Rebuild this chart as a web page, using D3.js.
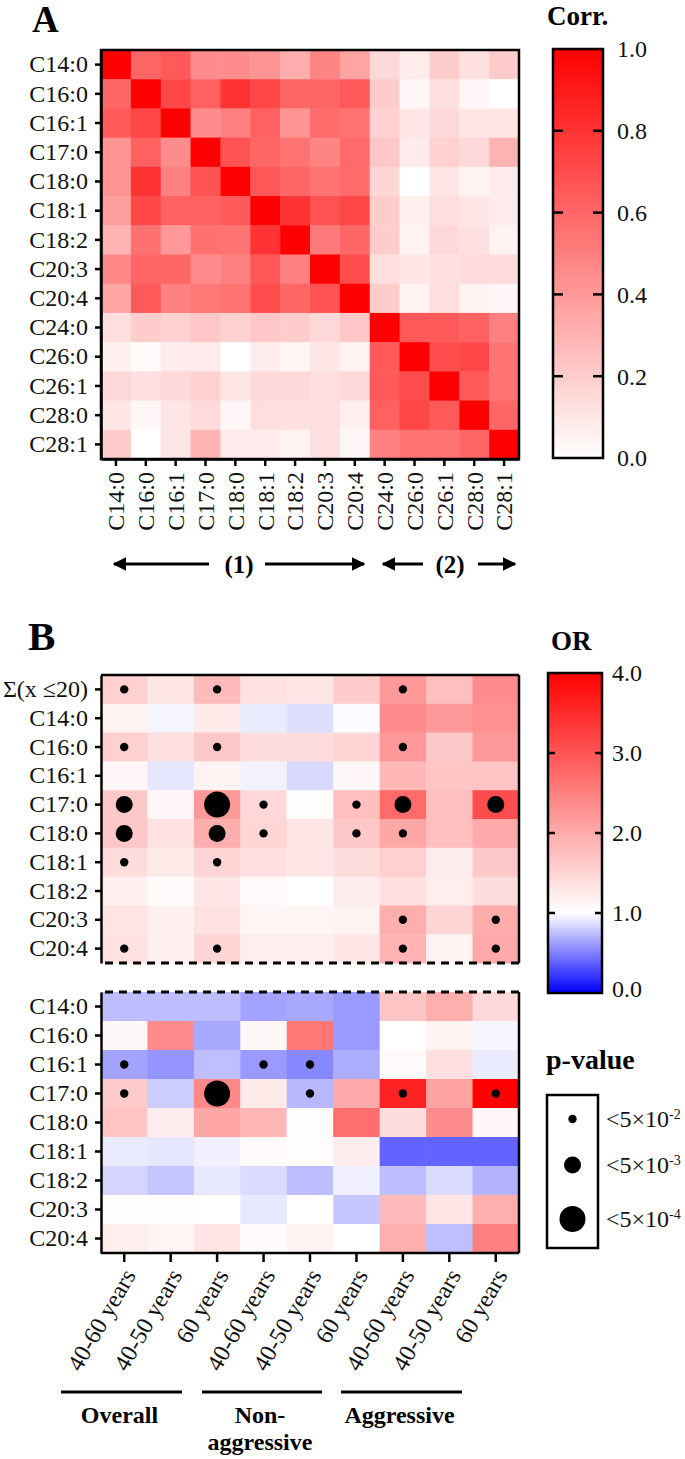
<!DOCTYPE html>
<html>
<head>
<meta charset="utf-8">
<script src="https://cdn.jsdelivr.net/npm/d3@7"></script>
<style>
  body { margin: 0; background: #fff; }
  text { font-family: "Liberation Serif", "Times New Roman", serif; }
</style>
</head>
<body>
<div id="chart"></div>
<script>
// Panel A: correlation between fatty acids
const corrLabels = ["C14:0", "C16:0", "C16:1", "C17:0", "C18:0", "C18:1", "C18:2",
                    "C20:3", "C20:4", "C24:0", "C26:0", "C26:1", "C28:0", "C28:1"];
const corrValues = [
  [1, 0.6, 0.65, 0.45, 0.45, 0.42, 0.32, 0.48, 0.36, 0.15, 0.08, 0.2, 0.12, 0.2],
  [0.6, 1, 0.72, 0.62, 0.8, 0.72, 0.6, 0.6, 0.65, 0.2, 0.03, 0.12, 0.03, 0.0],
  [0.65, 0.72, 1, 0.45, 0.5, 0.62, 0.42, 0.58, 0.55, 0.18, 0.1, 0.15, 0.1, 0.1],
  [0.42, 0.62, 0.45, 1, 0.68, 0.6, 0.55, 0.48, 0.58, 0.22, 0.08, 0.18, 0.15, 0.3],
  [0.42, 0.8, 0.5, 0.68, 1, 0.66, 0.6, 0.55, 0.58, 0.16, 0.0, 0.1, 0.05, 0.08],
  [0.38, 0.72, 0.62, 0.62, 0.65, 1, 0.8, 0.68, 0.72, 0.2, 0.06, 0.13, 0.1, 0.08],
  [0.3, 0.56, 0.4, 0.56, 0.55, 0.8, 1, 0.52, 0.6, 0.2, 0.05, 0.15, 0.12, 0.05],
  [0.47, 0.6, 0.6, 0.45, 0.5, 0.66, 0.5, 1, 0.7, 0.13, 0.1, 0.12, 0.14, 0.14],
  [0.35, 0.65, 0.5, 0.53, 0.55, 0.7, 0.6, 0.68, 1, 0.2, 0.05, 0.13, 0.05, 0.03],
  [0.13, 0.2, 0.18, 0.22, 0.18, 0.22, 0.2, 0.15, 0.22, 1, 0.65, 0.65, 0.62, 0.5],
  [0.06, 0.02, 0.08, 0.08, 0.0, 0.07, 0.04, 0.1, 0.05, 0.65, 1, 0.7, 0.72, 0.55],
  [0.15, 0.12, 0.15, 0.18, 0.1, 0.15, 0.15, 0.13, 0.15, 0.65, 0.7, 1, 0.65, 0.55],
  [0.1, 0.03, 0.1, 0.14, 0.03, 0.13, 0.12, 0.13, 0.06, 0.62, 0.72, 0.65, 1, 0.6],
  [0.2, 0.0, 0.1, 0.3, 0.08, 0.08, 0.05, 0.12, 0.03, 0.5, 0.55, 0.55, 0.6, 1]
];
const corrTicks = [0, 0.2, 0.4, 0.6, 0.8, 1.0];

// Panel B: odds ratios, with p-value level (0 = ns, 1 = <5e-2, 2 = <5e-3, 3 = <5e-4)
const orCols = ["40-60 years", "40-50 years", "60 years",
                "40-60 years", "40-50 years", "60 years",
                "40-60 years", "40-50 years", "60 years"];
const orGroups = ["Overall", "Non-|aggressive", "Aggressive"];
const orRowsTop = ["Σ(x ≤20)", "C14:0", "C16:0", "C16:1", "C17:0", "C18:0",
                   "C18:1", "C18:2", "C20:3", "C20:4"];
const orRowsBottom = ["C14:0", "C16:0", "C16:1", "C17:0", "C18:0",
                      "C18:1", "C18:2", "C20:3", "C20:4"];
const orTop = [
  [1.55, 1.3, 1.8, 1.35, 1.3, 1.6, 2.2, 1.75, 2.35],
  [1.15, 0.96, 1.25, 0.92, 0.87, 0.98, 2.35, 2.2, 2.3],
  [1.55, 1.38, 1.65, 1.4, 1.4, 1.5, 2.2, 1.65, 2.2],
  [1.1, 0.9, 1.15, 0.95, 0.85, 1.1, 1.85, 1.7, 1.7],
  [1.65, 1.1, 2.2, 1.45, 1.03, 1.75, 2.75, 1.75, 3.1],
  [1.65, 1.35, 1.95, 1.5, 1.3, 1.65, 2.05, 1.75, 2.0],
  [1.4, 1.25, 1.5, 1.38, 1.28, 1.4, 1.55, 1.22, 1.65],
  [1.18, 1.05, 1.28, 1.06, 1.0, 1.22, 1.38, 1.2, 1.4],
  [1.32, 1.18, 1.35, 1.12, 1.12, 1.15, 1.95, 1.5, 1.98],
  [1.35, 1.18, 1.5, 1.2, 1.2, 1.28, 1.9, 1.15, 2.0]
];
const pTop = [
  [1, 0, 1, 0, 0, 0, 1, 0, 0],
  [0, 0, 0, 0, 0, 0, 0, 0, 0],
  [1, 0, 1, 0, 0, 0, 1, 0, 0],
  [0, 0, 0, 0, 0, 0, 0, 0, 0],
  [2, 0, 3, 1, 0, 1, 2, 0, 2],
  [2, 0, 2, 1, 0, 1, 1, 0, 0],
  [1, 0, 1, 0, 0, 0, 0, 0, 0],
  [0, 0, 0, 0, 0, 0, 0, 0, 0],
  [0, 0, 0, 0, 0, 0, 1, 0, 1],
  [1, 0, 1, 0, 0, 0, 1, 0, 1]
];
const orBottom = [
  [0.74, 0.74, 0.74, 0.64, 0.66, 0.6, 1.7, 1.95, 1.45],
  [1.08, 2.35, 0.66, 1.08, 2.6, 0.6, 1.0, 1.15, 0.96],
  [0.64, 0.58, 0.75, 0.6, 0.53, 0.68, 1.05, 1.38, 0.92],
  [1.62, 0.8, 2.4, 1.25, 0.72, 2.0, 3.6, 2.1, 4.0],
  [1.7, 1.22, 2.05, 1.85, 1.03, 2.7, 1.4, 2.35, 1.1],
  [0.92, 0.9, 0.94, 1.05, 1.04, 1.22, 0.39, 0.39, 0.39],
  [0.83, 0.77, 0.91, 0.86, 0.74, 0.94, 0.74, 0.86, 0.7],
  [1.02, 1.02, 1.0, 0.91, 1.0, 0.78, 1.8, 1.28, 1.95],
  [1.2, 1.12, 1.32, 1.05, 1.15, 1.0, 1.95, 0.75, 2.5]
];
const pBottom = [
  [0, 0, 0, 0, 0, 0, 0, 0, 0],
  [0, 0, 0, 0, 0, 0, 0, 0, 0],
  [1, 0, 0, 1, 1, 0, 0, 0, 0],
  [1, 0, 3, 0, 1, 0, 1, 0, 1],
  [0, 0, 0, 0, 0, 0, 0, 0, 0],
  [0, 0, 0, 0, 0, 0, 0, 0, 0],
  [0, 0, 0, 0, 0, 0, 0, 0, 0],
  [0, 0, 0, 0, 0, 0, 0, 0, 0],
  [0, 0, 0, 0, 0, 0, 0, 0, 0]
];
const orTicks = [0, 1, 2, 3, 4];
const pLegend = [{lvl: 1, exp: "-2"}, {lvl: 2, exp: "-3"}, {lvl: 3, exp: "-4"}];

const W = 685, H = 1459;
const FONT = 24;
const DOT_R = [0, 4.2, 8.5, 13];

const svg = d3.select("#chart").append("svg")
  .attr("width", W).attr("height", H);
svg.append("rect").attr("width", W).attr("height", H).attr("fill", "#fff");

const corrColor = d3.scaleLinear().domain([0, 1]).range(["#ffffff", "#ff0000"]);
const orColor = d3.scaleLinear().domain([0, 1, 4]).range(["#0000ff", "#ffffff", "#ff0000"]);

function styleAxis(g) {
  g.select(".domain").attr("stroke", "#000").attr("stroke-width", 2.5);
  g.selectAll(".tick line").attr("stroke", "#000").attr("stroke-width", 2.5);
  g.selectAll(".tick text").attr("font-size", FONT).attr("fill", "#111");
}

// ---------------- Panel A ----------------
svg.append("text").attr("x", 32).attr("y", 32)
  .attr("font-size", 37).attr("font-weight", "bold").text("A");

const ax = d3.scaleBand().domain(corrLabels).range([101, 519]);
const ay = d3.scaleBand().domain(corrLabels).range([50, 459]);

const aCells = [];
corrValues.forEach((row, i) => row.forEach((v, j) => aCells.push({r: corrLabels[i], c: corrLabels[j], v: v})));

svg.append("g").selectAll("rect").data(aCells).join("rect")
  .attr("x", d => ax(d.c)).attr("y", d => ay(d.r))
  .attr("width", ax.bandwidth() + 0.5).attr("height", ay.bandwidth() + 0.5)
  .attr("fill", d => corrColor(d.v));

svg.append("rect").attr("x", 101).attr("y", 50).attr("width", 418).attr("height", 409)
  .attr("fill", "none").attr("stroke", "#000").attr("stroke-width", 2.5);

svg.append("g").attr("transform", "translate(101,0)")
  .call(d3.axisLeft(ay).tickSize(6).tickPadding(7).tickSizeOuter(0))
  .call(styleAxis);

const axB = svg.append("g").attr("transform", "translate(0,459)")
  .call(d3.axisBottom(ax).tickSize(7).tickSizeOuter(0))
  .call(styleAxis);
axB.selectAll(".tick text")
  .attr("transform", "rotate(-90)")
  .attr("text-anchor", "end")
  .attr("x", -13).attr("y", 0).attr("dy", "0.35em");

// group arrows under panel A
const defs = svg.append("defs");
defs.append("marker").attr("id", "arrow")
  .attr("viewBox", "0 0 10 10").attr("refX", 9).attr("refY", 5)
  .attr("markerWidth", 4.5).attr("markerHeight", 4.5).attr("orient", "auto-start-reverse")
  .append("path").attr("d", "M0,0 L10,5 L0,10 Z").attr("fill", "#000");

const arrowY = 564;
const arrows = [[209, 114], [265, 364], [423, 383], [478, 515]];
svg.append("g").selectAll("line").data(arrows).join("line")
  .attr("x1", d => d[0]).attr("x2", d => d[1])
  .attr("y1", arrowY).attr("y2", arrowY)
  .attr("stroke", "#000").attr("stroke-width", 3)
  .attr("marker-end", "url(#arrow)");
svg.append("text").attr("x", 239).attr("y", arrowY).attr("dy", "0.35em")
  .attr("text-anchor", "middle").attr("font-size", 25).attr("font-weight", "bold").text("(1)");
svg.append("text").attr("x", 450).attr("y", arrowY).attr("dy", "0.35em")
  .attr("text-anchor", "middle").attr("font-size", 25).attr("font-weight", "bold").text("(2)");

// Corr colour bar
const gradA = defs.append("linearGradient").attr("id", "gradA")
  .attr("x1", 0).attr("y1", 1).attr("x2", 0).attr("y2", 0);
gradA.append("stop").attr("offset", "0%").attr("stop-color", corrColor(0));
gradA.append("stop").attr("offset", "100%").attr("stop-color", corrColor(1));

const cbA = d3.scaleLinear().domain([0, 1]).range([458, 49]);
svg.append("text").attr("x", 547).attr("y", 25)
  .attr("font-size", 27).attr("font-weight", "bold").text("Corr.");
svg.append("rect").attr("x", 553).attr("y", cbA(1)).attr("width", 50).attr("height", cbA(0) - cbA(1))
  .attr("fill", "url(#gradA)").attr("stroke", "#000").attr("stroke-width", 2.5);
const cbAg = svg.append("g");
cbAg.selectAll("line.l").data(corrTicks.slice(1, -1)).join("line")
  .attr("x1", 553).attr("x2", 563).attr("y1", d => cbA(d)).attr("y2", d => cbA(d))
  .attr("stroke", "#000").attr("stroke-width", 2.5);
cbAg.selectAll("line.r").data(corrTicks.slice(1, -1)).join("line")
  .attr("x1", 593).attr("x2", 603).attr("y1", d => cbA(d)).attr("y2", d => cbA(d))
  .attr("stroke", "#000").attr("stroke-width", 2.5);
cbAg.selectAll("text").data(corrTicks).join("text")
  .attr("x", 617).attr("y", d => cbA(d)).attr("dy", "0.35em")
  .attr("font-size", FONT).attr("fill", "#111").text(d => d3.format(".1f")(d));

// ---------------- Panel B ----------------
svg.append("text").attr("x", 28).attr("y", 650)
  .attr("font-size", 41).attr("font-weight", "bold").text("B");

const bx = d3.scaleBand().domain(d3.range(orCols.length)).range([101, 519]);
const byTop = d3.scaleBand().domain(orRowsTop).range([675, 963]);
const byBot = d3.scaleBand().domain(orRowsBottom).range([992, 1253]);

function drawBlock(values, pvals, rows, yScale) {
  const cells = [];
  values.forEach((row, i) => row.forEach((v, j) => cells.push({r: rows[i], c: j, v: v, p: pvals[i][j]})));
  const g = svg.append("g");
  g.selectAll("rect").data(cells).join("rect")
    .attr("x", d => bx(d.c)).attr("y", d => yScale(d.r))
    .attr("width", bx.bandwidth() + 0.5).attr("height", yScale.bandwidth() + 0.5)
    .attr("fill", d => orColor(d.v));
  g.selectAll("circle").data(cells.filter(d => d.p > 0)).join("circle")
    .attr("cx", d => bx(d.c) + bx.bandwidth() / 2)
    .attr("cy", d => yScale(d.r) + yScale.bandwidth() / 2)
    .attr("r", d => DOT_R[d.p]).attr("fill", "#000");
  svg.append("g").attr("transform", "translate(101,0)")
    .call(d3.axisLeft(yScale).tickSize(6).tickPadding(7).tickSizeOuter(0))
    .call(styleAxis);
}
drawBlock(orTop, pTop, orRowsTop, byTop);
drawBlock(orBottom, pBottom, orRowsBottom, byBot);

// frames: solid outer edges, dashed break between blocks
const frame = svg.append("g").attr("stroke", "#000").attr("stroke-width", 2.5).attr("fill", "none");
frame.append("line").attr("x1", 101).attr("x2", 519).attr("y1", 675).attr("y2", 675);
frame.append("line").attr("x1", 519).attr("x2", 519).attr("y1", 675).attr("y2", 963);
frame.append("line").attr("x1", 519).attr("x2", 519).attr("y1", 992).attr("y2", 1253);
frame.append("line").attr("x1", 101).attr("x2", 519).attr("y1", 1253).attr("y2", 1253);
frame.append("line").attr("x1", 105).attr("x2", 519).attr("y1", 963).attr("y2", 963)
  .attr("stroke-width", 3).attr("stroke-dasharray", "8,6");
frame.append("line").attr("x1", 105).attr("x2", 519).attr("y1", 992).attr("y2", 992)
  .attr("stroke-width", 3).attr("stroke-dasharray", "8,6");

const bxAxis = svg.append("g").attr("transform", "translate(0,1253)")
  .call(d3.axisBottom(bx).tickSize(9).tickSizeOuter(0).tickFormat(i => orCols[i]))
  .call(styleAxis);
bxAxis.select(".domain").remove();
bxAxis.selectAll(".tick text")
  .attr("transform", "translate(5,18) rotate(-60)")
  .attr("text-anchor", "end")
  .attr("x", 0).attr("y", 0).attr("dy", "0.35em");

// group underlines and names
const groupSpans = [[61, 182], [202, 322], [341, 462]];
const gg = svg.append("g");
gg.selectAll("line").data(groupSpans).join("line")
  .attr("x1", d => d[0]).attr("x2", d => d[1]).attr("y1", 1392).attr("y2", 1392)
  .attr("stroke", "#000").attr("stroke-width", 3);
gg.selectAll("text").data(orGroups).join("text")
  .attr("x", (d, i) => (groupSpans[i][0] + groupSpans[i][1]) / 2 - 2)
  .attr("y", 1423).attr("text-anchor", "middle")
  .attr("font-size", 24).attr("font-weight", "bold")
  .each(function(d) {
    const parts = d.split("|");
    d3.select(this).selectAll("tspan").data(parts).join("tspan")
      .attr("x", d3.select(this).attr("x"))
      .attr("dy", (p, k) => k === 0 ? 0 : 27)
      .text(p => p);
  });

// OR colour bar
const gradB = defs.append("linearGradient").attr("id", "gradB")
  .attr("x1", 0).attr("y1", 1).attr("x2", 0).attr("y2", 0);
[0, 1, 4].forEach(v => gradB.append("stop").attr("offset", (v / 4 * 100) + "%").attr("stop-color", orColor(v)));

const cbB = d3.scaleLinear().domain([0, 4]).range([993, 673]);
svg.append("text").attr("x", 551).attr("y", 650)
  .attr("font-size", 27).attr("font-weight", "bold").text("OR");
svg.append("rect").attr("x", 548).attr("y", cbB(4)).attr("width", 54).attr("height", cbB(0) - cbB(4))
  .attr("fill", "url(#gradB)").attr("stroke", "#000").attr("stroke-width", 2.5);
const cbBg = svg.append("g");
cbBg.selectAll("line.l").data(orTicks.slice(1, -1)).join("line")
  .attr("x1", 548).attr("x2", 555).attr("y1", d => cbB(d)).attr("y2", d => cbB(d))
  .attr("stroke", "#000").attr("stroke-width", 2.5);
cbBg.selectAll("line.r").data(orTicks.slice(1, -1)).join("line")
  .attr("x1", 595).attr("x2", 602).attr("y1", d => cbB(d)).attr("y2", d => cbB(d))
  .attr("stroke", "#000").attr("stroke-width", 2.5);
cbBg.selectAll("text").data(orTicks).join("text")
  .attr("x", 612).attr("y", d => cbB(d) - (d === 0 ? 4 : 0)).attr("dy", "0.35em")
  .attr("font-size", FONT).attr("fill", "#111").text(d => d3.format(".1f")(d));

// p-value legend
svg.append("text").attr("x", 546).attr("y", 1069)
  .attr("font-size", 28).attr("font-weight", "bold").text("p-value");
svg.append("rect").attr("x", 547).attr("y", 1095).attr("width", 51).attr("height", 153)
  .attr("fill", "none").attr("stroke", "#000").attr("stroke-width", 2.5);
const legY = [1119, 1165, 1219];
const leg = svg.append("g").selectAll("g").data(pLegend).join("g")
  .attr("transform", (d, i) => `translate(0,${legY[i]})`);
leg.append("circle").attr("cx", 572.5).attr("cy", 0).attr("r", d => DOT_R[d.lvl]).attr("fill", "#000");
const legText = leg.append("text").attr("x", 606).attr("y", 0).attr("dy", "0.35em")
  .attr("font-size", FONT).attr("fill", "#111");
legText.append("tspan").text("<5×10");
legText.append("tspan").attr("font-size", 14).attr("dy", "-0.6em").text(d => d.exp);
</script>
</body>
</html>
